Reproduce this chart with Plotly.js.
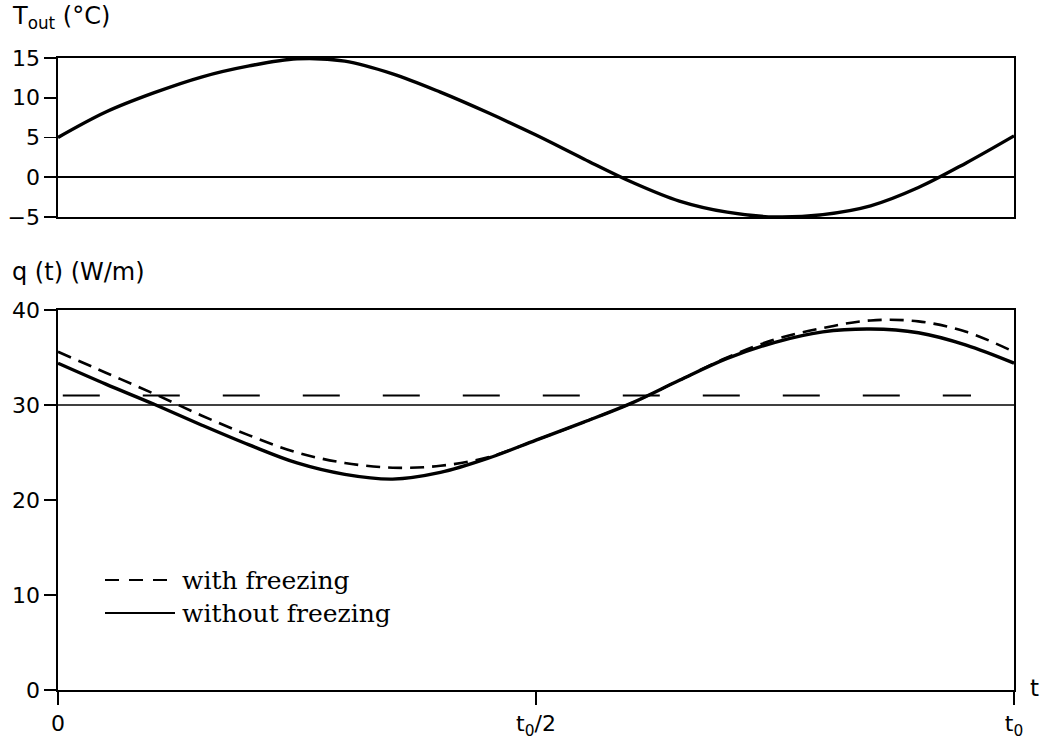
<!DOCTYPE html>
<html>
<head>
<meta charset="utf-8">
<script src="https://cdn.plot.ly/plotly-3.0.1.min.js"></script>
<style>html,body{margin:0;padding:0;background:#fff;}#chart{width:1040px;height:743px;}</style>
</head>
<body>
<div id="chart"></div>
<script>
// time as a fraction of the period t0
const tGrid = [0,0.05,0.1,0.15,0.2,0.25,0.3,0.35,0.4,0.45,0.5,0.55,0.6,0.65,0.7,0.75,0.8,0.85,0.9,0.95,1.0];
// outdoor temperature (°C)
const tOut = [5.0,8.2,10.6,12.6,14.0,14.9,14.6,13.0,10.7,8.1,5.3,2.3,-0.6,-3.0,-4.4,-5.0,-4.7,-3.6,-1.3,1.8,5.2];
// heat flow q(t) (W/m)
const qWithFreezing = [35.6,33.4,31.2,28.9,26.8,25.0,23.9,23.4,23.6,24.5,26.3,28.2,30.2,32.6,35.0,36.9,38.1,38.9,38.8,37.7,35.6];
const qWithoutFreezing = [34.4,32.2,30.1,27.9,25.8,23.9,22.7,22.2,22.9,24.4,26.3,28.2,30.2,32.6,34.9,36.6,37.7,38.0,37.6,36.3,34.4];
// mean level with freezing
const meanT = [0.005,0.955];
const meanQ = [31,31];
// tick labels
const yTopTicks = [-5,0,5,10,15];
const yBotTicks = [0,10,20,30,40];
const xTickVals = [0,0.5,1];
const xTickText = ['0','t<sub>0</sub>/2','t<sub>0</sub>'];
const legendLabels = ['with freezing','without freezing'];

const sansFont = 'DejaVu Sans, sans-serif';
const serifFont = 'DejaVu Serif, Liberation Serif, serif';

const traces = [
  {x:tGrid, y:tOut, xaxis:'x', yaxis:'y', mode:'lines', line:{color:'#000', width:3.4, shape:'spline', smoothing:1}, showlegend:false, hoverinfo:'skip'},
  {x:tGrid, y:qWithFreezing, xaxis:'x2', yaxis:'y2', mode:'lines', name:legendLabels[0], line:{color:'#000', width:2.6, dash:'14px,8px', shape:'spline', smoothing:1}, showlegend:false},
  {x:tGrid, y:qWithoutFreezing, xaxis:'x2', yaxis:'y2', mode:'lines', name:legendLabels[1], line:{color:'#000', width:3.4, shape:'spline', smoothing:1}, showlegend:false},
  {x:meanT, y:meanQ, xaxis:'x2', yaxis:'y2', mode:'lines', line:{color:'#000', width:2, dash:'37px,43px'}, showlegend:false, hoverinfo:'skip'}
];

const axisCommon = {showgrid:false, showline:true, linecolor:'#000', linewidth:1.6, mirror:true, zeroline:false};

const layout = {
  width:1040, height:743,
  margin:{l:58, r:26, t:0, b:0},
  paper_bgcolor:'#fff', plot_bgcolor:'#fff',
  showlegend:false,
  font:{family:sansFont, color:'#000', size:22},
  xaxis: Object.assign({}, axisCommon, {domain:[0,1], range:[0,1], anchor:'y', ticks:'', showticklabels:false}),
  yaxis: Object.assign({}, axisCommon, {domain:[0.708,0.922], range:[-5,15], anchor:'x',
          tickvals:yTopTicks, ticks:'outside', ticklen:12, tickwidth:1.6, tickcolor:'#000',
          tickfont:{family:sansFont, size:22}, zeroline:true, zerolinecolor:'#000', zerolinewidth:1.6}),
  xaxis2: Object.assign({}, axisCommon, {domain:[0,1], range:[0,1], anchor:'y2',
          tickvals:xTickVals, ticktext:xTickText, ticks:'outside', ticklen:13, tickwidth:2, tickcolor:'#000',
          tickfont:{family:sansFont, size:22}}),
  yaxis2: Object.assign({}, axisCommon, {domain:[0.0713,0.5828], range:[0,40], anchor:'x2',
          tickvals:yBotTicks, ticks:'outside', ticklen:12, tickwidth:1.6, tickcolor:'#000',
          tickfont:{family:sansFont, size:22}}),
  shapes:[
    {type:'line', xref:'x2 domain', yref:'y2', x0:0, x1:1, y0:30, y1:30, line:{color:'#000', width:1.6}},
    {type:'line', xref:'paper', yref:'paper', x0:(105-58)/956, x1:(175-58)/956, y0:(743-580)/743, y1:(743-580)/743, line:{color:'#000', width:2, dash:'14px,10px'}},
    {type:'line', xref:'paper', yref:'paper', x0:(105-58)/956, x1:(175-58)/956, y0:(743-613)/743, y1:(743-613)/743, line:{color:'#000', width:2}}
  ],
  annotations:[
    {xref:'paper', yref:'paper', x:-48/956, y:(743-18)/743, xanchor:'left', yanchor:'middle', showarrow:false,
     text:'T<sub>out</sub> (°C)', font:{family:sansFont, size:24}},
    {xref:'paper', yref:'paper', x:-48/956, y:(743-272)/743, xanchor:'left', yanchor:'middle', showarrow:false,
     text:'q (t) (W/m)', font:{family:sansFont, size:24}},
    {xref:'paper', yref:'paper', x:(180-58)/956, y:(743-580)/743, xanchor:'left', yanchor:'middle', showarrow:false,
     text:legendLabels[0], font:{family:serifFont, size:25}},
    {xref:'paper', yref:'paper', x:(180-58)/956, y:(743-613)/743, xanchor:'left', yanchor:'middle', showarrow:false,
     text:legendLabels[1], font:{family:serifFont, size:25}},
    {xref:'paper', yref:'paper', x:(1028-58)/956, y:(743-688)/743, xanchor:'left', yanchor:'middle', showarrow:false,
     text:'t', font:{family:sansFont, size:23}}
  ]
};

Plotly.newPlot('chart', traces, layout, {displayModeBar:false, staticPlot:true});
</script>
</body>
</html>
